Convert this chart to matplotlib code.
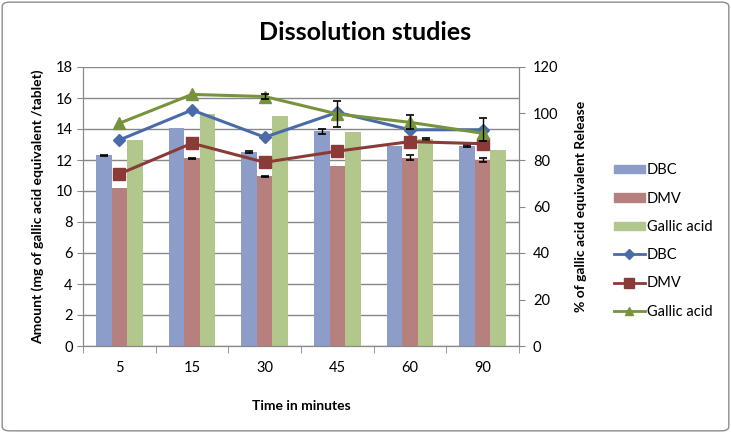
import numpy as np
import matplotlib.pyplot as plt
from matplotlib.patches import FancyBboxPatch, Patch
from matplotlib.lines import Line2D

plt.rcParams['font.family'] = ['Lato', 'DejaVu Sans']

# data
times = ['5', '15', '30', '45', '60', '90']
amt_dbc = [12.3, 14.05, 12.5, 13.85, 12.9, 12.9]
amt_dmv = [10.2, 12.1, 10.95, 11.6, 12.15, 12.0]
amt_gal = [13.3, 14.95, 14.85, 13.8, 13.35, 12.65]
err_dbc = [0.04, 0.0, 0.06, 0.15, 0.0, 0.04]
err_dmv = [0.0, 0.05, 0.04, 0.0, 0.15, 0.15]
err_gal = [0.0, 0.0, 0.0, 0.0, 0.05, 0.0]

rel_dbc = [88.6, 101.5, 89.8, 100.5, 93.0, 93.0]
rel_dmv = [74.0, 87.2, 79.0, 83.8, 87.9, 87.0]
rel_gal = [95.8, 108.2, 107.3, 99.8, 96.2, 91.5]
rel_err_dbc = [0, 0, 0, 0, 0, 5.0]
rel_err_dmv = [0, 0, 0, 0, 0, 0]
rel_err_gal = [0, 0, 1.0, 5.4, 3.0, 0]

labels = ['DBC', 'DMV', 'Gallic acid']
bar_cols = ['#8B9DC8', '#B5807E', '#B2C78B']
line_cols = ['#4A6AA8', '#8B3B37', '#77933C']
markers = ['D', 's', '^']
msizes = [6, 9, 8]

fig = plt.figure(figsize=(7.31, 4.33), dpi=100)
fig.patches.append(FancyBboxPatch((0.003, 0.005), 0.994, 0.99, boxstyle='round,pad=0,rounding_size=0.01',
                                  transform=fig.transFigure, fc='white', ec='#8C8C8C', lw=1, zorder=-10))
ax = fig.add_axes([83 / 731, 1 - 346 / 433, 436 / 731, 279 / 433])
ax.patch.set_alpha(0)
ax2 = ax.twinx()

x = np.arange(len(times))
w = 0.215
ekw = dict(fmt='none', ecolor='black', capsize=3, elinewidth=1, capthick=1.2, zorder=4)


def err(a, xs, ys, es):
    xs, ys, es = np.asarray(xs, float), np.asarray(ys, float), np.asarray(es, float)
    keep = es > 0
    if keep.any():
        a.errorbar(xs[keep], ys[keep], yerr=es[keep], **ekw)


for off, vals, errs, c in zip([-w, 0, w], [amt_dbc, amt_dmv, amt_gal], [err_dbc, err_dmv, err_gal], bar_cols):
    ax.bar(x + off, vals, w, color=c, zorder=2)
    err(ax, x + off, vals, errs)

for vals, errs, c, m, ms in zip([rel_dbc, rel_dmv, rel_gal], [rel_err_dbc, rel_err_dmv, rel_err_gal],
                                line_cols, markers, msizes):
    ax2.plot(x, vals, color=c, marker=m, ms=ms, lw=2.2, zorder=3)
    err(ax2, x, vals, errs)

ax.set_xlim(-0.5, len(times) - 0.5)
ax.set_ylim(0, 18)
ax.set_yticks(range(0, 19, 2))
ax2.set_ylim(0, 120)
ax2.set_yticks(range(0, 121, 20))
ax.set_xticks(x)
ax.set_xticklabels(times)
ax.set_xticks(np.arange(-0.5, len(times)), minor=True)
ax.tick_params(axis='x', which='major', length=0, pad=11, labelsize=10.5)
ax.tick_params(axis='x', which='minor', length=5, color='#888888')
ax.tick_params(axis='y', labelsize=10.5, length=4, color='#888888')
ax2.tick_params(axis='y', labelsize=10.5, length=4, color='#888888', pad=6)
ax.yaxis.grid(True, color='#888888', lw=1)
ax.set_axisbelow(True)
for a in (ax, ax2):
    for s in a.spines.values():
        s.set_color('#888888')
    a.spines['top'].set_visible(False)

ax.set_xlabel('Time in minutes', fontsize=10, fontweight='bold', labelpad=18)
ax.set_ylabel('Amount (mg of gallic acid equivalent /tablet)', fontsize=10, fontweight='bold', labelpad=8)
ax2.set_ylabel('% of gallic acid equivalent Release', fontsize=10, fontweight='bold', labelpad=12)
fig.text(0.5, 1 - 33 / 433, 'Dissolution studies', ha='center', va='center', fontsize=18, fontweight='bold')

handles = [Patch(color=c) for c in bar_cols]
handles += [Line2D([], [], color=c, marker=m, ms=ms * 0.8, lw=2) for c, m, ms in zip(line_cols, markers, msizes)]
fig.legend(handles, labels * 2, loc='center left', bbox_to_anchor=(614 / 731, 1 - 241 / 433),
           frameon=False, fontsize=10.5, handlelength=2.1, handleheight=0.5, labelspacing=0.98,
           handletextpad=0.15, borderpad=0, borderaxespad=0)

plt.savefig('out.png', dpi=100)
